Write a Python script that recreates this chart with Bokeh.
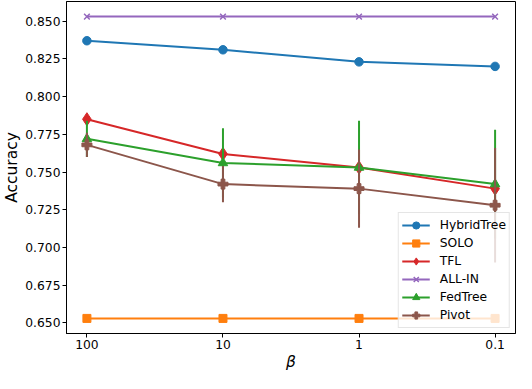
from bokeh.plotting import figure
from bokeh.models import (FixedTicker, PrintfTickFormatter, Range1d, Legend, LegendItem)
from bokeh.embed import file_html
from bokeh.resources import INLINE

betas = ["100", "10", "1", "0.1"]
hybridtree = [0.837, 0.831, 0.823, 0.820]
solo = [0.653, 0.653, 0.653, 0.653]
tfl = [0.785, 0.762, 0.753, 0.739]
all_in = [0.853, 0.853, 0.853, 0.853]
fedtree = [0.772, 0.756, 0.753, 0.742]
fedtree_err = [0.012, 0.023, 0.031, 0.036]
pivot = [0.768, 0.742, 0.739, 0.728]
pivot_err = [0.008, 0.012, 0.026, 0.038]
y_ticks = [0.650, 0.675, 0.700, 0.725, 0.750, 0.775, 0.800, 0.825, 0.850]

xs = list(range(len(betas)))
FONT = "DejaVu Sans"

p = figure(width=516, height=373, output_backend="svg", toolbar_location=None,
           x_range=Range1d(-0.15, 3.15), y_range=Range1d(0.643, 0.863),
           min_border_top=1, min_border_right=1, min_border_left=0, min_border_bottom=0)
p.grid.visible = False
p.outline_line_color = "black"
p.outline_line_width = 1
p.background_fill_color = "white"

p.xaxis.ticker = FixedTicker(ticks=xs)
p.xaxis.major_label_overrides = {i: b for i, b in zip(xs, betas)}
p.yaxis.ticker = FixedTicker(ticks=y_ticks)
p.yaxis.formatter = PrintfTickFormatter(format="%.3f")
for ax in (p.xaxis[0], p.yaxis[0]):
    ax.minor_tick_line_color = None
    ax.major_tick_out = 4
    ax.major_tick_in = 0
    ax.major_tick_line_color = "black"
    ax.axis_line_color = "black"
    ax.major_label_text_font = FONT
    ax.major_label_text_font_size = "12.3px"
    ax.major_label_text_color = "black"
    ax.major_label_standoff = 2
    ax.axis_label_text_font = FONT
    ax.axis_label_text_font_size = "15.5px"
    ax.axis_label_text_color = "black"
p.xaxis.axis_label = "β"
p.xaxis.axis_label_text_font_style = "italic"
p.xaxis.axis_label_standoff = 1
p.yaxis.axis_label = "Accuracy"
p.yaxis.axis_label_text_font_style = "normal"
p.yaxis.axis_label_standoff = 1

series = [
    ("HybridTree", hybridtree, None, "#1f77b4", "circle", 8.5),
    ("SOLO", solo, None, "#ff7f0e", "square", 8),
    ("TFL", tfl, None, "#d62728", "diamond", 13),
    ("ALL-IN", all_in, None, "#9467bd", "x", 8),
    ("FedTree", fedtree, fedtree_err, "#2ca02c", "triangle", 9.5),
    ("Pivot", pivot, pivot_err, "#8c564b", "plus", 10),
]

items = []
for name, ys, err, color, marker, size in series:
    rs = []
    if err is not None:
        lo = [y - e for y, e in zip(ys, err)]
        hi = [y + e for y, e in zip(ys, err)]
        p.segment(x0=xs, y0=lo, x1=xs, y1=hi, line_color=color, line_width=2)
    ln = p.line(xs, ys, line_color=color, line_width=2)
    rs.append(ln)
    if marker == "x":
        mk = p.scatter(xs, ys, marker=marker, size=size, line_color=color, line_width=1.5)
    else:
        mk = p.scatter(xs, ys, marker=marker, size=size, fill_color=color, line_color=color, line_width=1)
    rs.append(mk)
    items.append(LegendItem(label=name, renderers=rs))

legend = Legend(items=items, location="bottom_right")
legend.label_text_font = FONT
legend.label_text_font_size = "12.3px"
legend.label_text_color = "black"
legend.glyph_width = 28
legend.glyph_height = 18
legend.label_height = 18
legend.spacing = 0
legend.padding = 3
legend.margin = 5
legend.label_standoff = 10
legend.border_line_color = "#cccccc"
legend.border_line_width = 1
legend.background_fill_alpha = 0.8
legend.background_fill_color = "white"
p.add_layout(legend)

open("out.html", "w").write(file_html(p, INLINE))
